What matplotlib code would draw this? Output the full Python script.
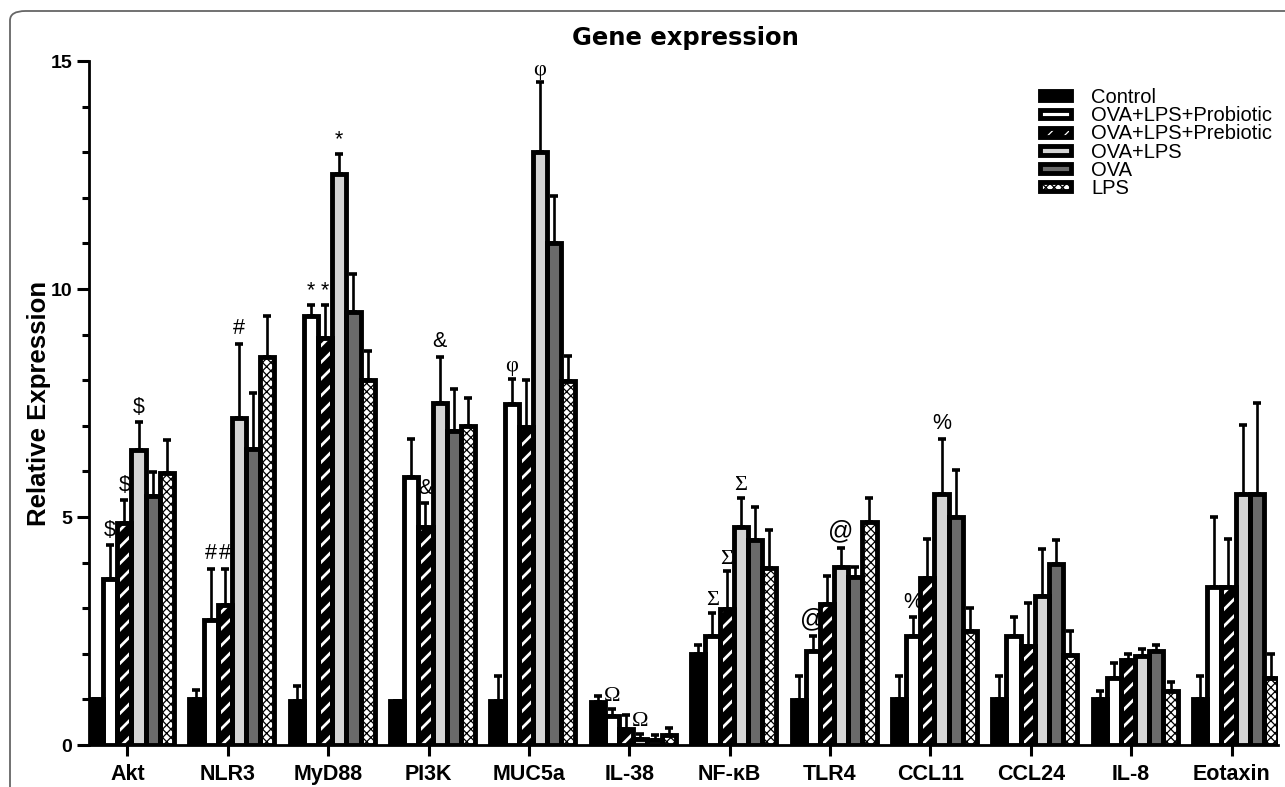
import matplotlib
matplotlib.use("Agg")
import matplotlib.pyplot as plt
import numpy as np
from matplotlib.patches import FancyBboxPatch
from matplotlib.ticker import MultipleLocator
from matplotlib.legend_handler import HandlerTuple

genes = ['Akt', 'NLR3', 'MyD88', 'PI3K', 'MUC5a', 'IL-38',
         'NF-κB', 'TLR4', 'CCL11', 'CCL24', 'IL-8', 'Eotaxin']
groups = ['Control', 'OVA+LPS+Probiotic', 'OVA+LPS+Prebiotic', 'OVA+LPS', 'OVA', 'LPS']

# mean values per group (one value per gene)
control = [1.0, 1.0, 0.96, 0.96, 0.96, 0.94, 2.0, 0.99, 1.0, 1.0, 1.0, 1.0]
probiotic = [3.65, 2.75, 9.4, 5.88, 7.47, 0.63, 2.39, 2.07, 2.39, 2.38, 1.48, 3.47]
prebiotic = [4.86, 3.06, 8.92, 4.77, 6.98, 0.34, 2.98, 3.09, 3.67, 2.18, 1.86, 3.47]
ova_lps = [6.47, 7.17, 12.53, 7.49, 13.0, 0.14, 4.79, 3.9, 5.5, 3.27, 1.95, 5.5]
ova = [5.45, 6.5, 9.5, 6.89, 11.0, 0.12, 4.5, 3.69, 4.99, 3.98, 2.07, 5.5]
lps = [5.96, 8.5, 8.0, 6.99, 7.99, 0.21, 3.89, 4.9, 2.49, 1.97, 1.18, 1.48]

# error (upper only)
control_err = [0.0, 0.2, 0.34, 0.0, 0.56, 0.13, 0.2, 0.53, 0.52, 0.51, 0.19, 0.51]
probiotic_err = [0.73, 1.12, 0.24, 0.84, 0.56, 0.16, 0.51, 0.33, 0.41, 0.42, 0.32, 1.53]
prebiotic_err = [0.51, 0.81, 0.72, 0.53, 1.02, 0.32, 0.83, 0.62, 0.84, 0.93, 0.14, 1.04]
ova_lps_err = [0.61, 1.63, 0.42, 1.02, 1.53, 0.1, 0.63, 0.42, 1.21, 1.03, 0.16, 1.52]
ova_err = [0.53, 1.22, 0.83, 0.92, 1.03, 0.1, 0.72, 0.22, 1.03, 0.52, 0.13, 2.01]
lps_err = [0.73, 0.9, 0.63, 0.61, 0.53, 0.16, 0.82, 0.52, 0.51, 0.53, 0.21, 0.51]

# significance marks: (gene, group, symbol)
marks = [
    ('Akt', 1, '$'), ('Akt', 2, '$'), ('Akt', 3, '$'),
    ('NLR3', 1, '#'), ('NLR3', 2, '#'), ('NLR3', 3, '#'),
    ('MyD88', 1, '*'), ('MyD88', 2, '*'), ('MyD88', 3, '*'),
    ('PI3K', 2, '&'), ('PI3K', 3, '&'),
    ('MUC5a', 1, 'φ'), ('MUC5a', 3, 'φ'),
    ('IL-38', 1, 'Ω'), ('IL-38', 3, 'Ω'),
    ('NF-κB', 1, 'Σ'), ('NF-κB', 2, 'Σ'), ('NF-κB', 3, 'Σ'),
    ('TLR4', 1, '@'), ('TLR4', 3, '@'),
    ('CCL11', 1, '%'), ('CCL11', 3, '%'),
]

means = [control, probiotic, prebiotic, ova_lps, ova, lps]
errs = [control_err, probiotic_err, prebiotic_err, ova_lps_err, ova_err, lps_err]

# fill style per group: (face, hatch colour, hatch)
styles = [
    ('black', 'black', None),
    ('white', 'white', None),
    ('black', 'white', '//'),
    ('#d4d4d4', '#d4d4d4', None),
    ('#6a6a6a', '#6a6a6a', None),
    ('white', 'black', 'xxxx'),
]

plt.rcParams['font.family'] = ['Liberation Sans', 'DejaVu Sans']

fig = plt.figure(figsize=(12.85, 7.87), dpi=100)
ax = fig.add_axes([89 / 1285, 1 - 745 / 787, (1278 - 89) / 1285, (745 - 61) / 787])

x = np.arange(len(genes))
w = 0.141
off = 0.04
handles = []
for j, (vals, ev, st) in enumerate(zip(means, errs, styles)):
    pos = x + off + (j - 2.5) * w
    face, hcol, hatch = st
    ax.errorbar(pos, vals, yerr=[np.zeros(len(vals)), ev], fmt='none',
                ecolor='black', elinewidth=1.9, capsize=3, capthick=2.6, zorder=1)
    hlw = 2.0 if j == 2 else 0.9
    plt.rcParams['hatch.linewidth'] = hlw
    fill = ax.bar(pos, vals, width=w, color=face, edgecolor=hcol, hatch=hatch,
                  linewidth=0, zorder=2)
    for p in fill:
        if hasattr(p, 'set_hatch_linewidth'):
            p.set_hatch_linewidth(hlw)
    edge = ax.bar(pos, vals, width=w, facecolor='none', edgecolor='black',
                  linewidth=3.5, zorder=3)
    handles.append((fill, edge))

for gene, g, sym in marks:
    i = genes.index(gene)
    top = means[g][i] + errs[g][i]
    xp = i + off + (g - 2.5) * w
    if sym in 'φΩΣ':
        ax.text(xp, top + 0.06, sym, ha='center', va='bottom', fontsize=16,
                family=['Liberation Serif', 'DejaVu Serif'], clip_on=False)
    else:
        fs = 18 if sym == '@' else 15.5
        ax.text(xp, top + 0.1, sym, ha='center', va='bottom', fontsize=fs, clip_on=False)

ax.set_xlim(off - 3 * w, len(genes) - 1 + off + 3 * w)
ax.set_ylim(0, 15)
ax.set_xticks(x)
ax.set_xticklabels(genes, fontsize=15.5, fontweight='bold')
ax.set_yticks([0, 5, 10, 15])
ax.set_yticklabels(['0', '5', '10', '15'], fontsize=14, fontweight='bold')
ax.yaxis.set_minor_locator(MultipleLocator(1))
ax.tick_params(axis='y', which='major', length=9, width=2.2, pad=3)
ax.tick_params(axis='y', which='minor', length=5, width=2.2)
ax.tick_params(axis='x', which='major', length=8, width=2.2, pad=6)
for s in ['top', 'right']:
    ax.spines[s].set_visible(False)
for s in ['left', 'bottom']:
    ax.spines[s].set_linewidth(2.0)
ax.set_ylabel('Relative Expression', fontsize=18.5, fontweight='bold', labelpad=0)
ax.patch.set_visible(False)

fig.text(685 / 1285, 1 - 45 / 787, 'Gene expression', ha='center', va='baseline',
         fontsize=17.5, fontweight='bold', family='DejaVu Sans')

leg = fig.legend(handles, groups, loc='upper left',
                 bbox_to_anchor=(1040 / 1285, 1 - 88 / 787),
                 handler_map={tuple: HandlerTuple(ndivide=1)},
                 frameon=False, fontsize=14.5, labelspacing=-0.04,
                 handlelength=1.55, handleheight=0.3, handletextpad=1.0,
                 borderpad=0, borderaxespad=0)

border = FancyBboxPatch((10 / 1285, -0.1), 1.2, 1 - 11 / 787 + 0.1,
                        boxstyle='round,pad=0,rounding_size=0.012',
                        transform=fig.transFigure, fill=False,
                        edgecolor='#666666', linewidth=1.3)
fig.patches.append(border)

fig.savefig('out.png', dpi=100)
